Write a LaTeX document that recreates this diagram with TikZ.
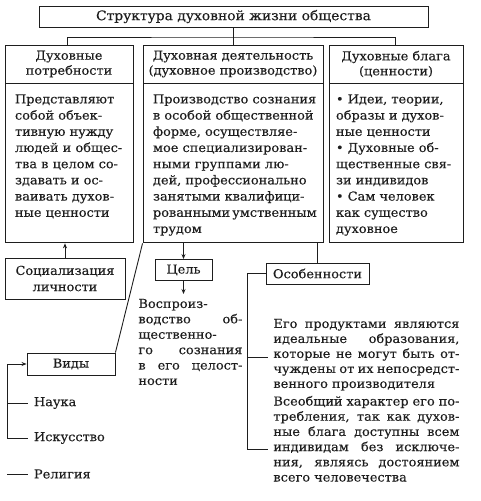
\documentclass[tikz,border=0pt]{standalone}
\usepackage{fontspec}
\setmainfont{DejaVu Serif}[FakeStretch=1.05, FakeBold=0.3]
\usetikzlibrary{arrows.meta}
\definecolor{ink}{RGB}{30,30,30}

% justified line of the current width
\newlength{\jwd}
\newcommand{\jl}[1]{\makebox[\jwd][s]{#1}}

\tikzset{
  box/.style={draw=ink, line width=0.9pt, inner sep=0pt, align=center},
  txt/.style={anchor=north west, align=left, inner sep=0pt},
  lbl/.style={anchor=west, inner sep=0pt, outer xsep=6pt},
  jw/.code={\setlength{\jwd}{#1}},
  tip/.style={-{Stealth[length=5pt,width=4pt]}},
}

\begin{document}
\begin{tikzpicture}[x=1pt, y=-1pt, color=ink, line width=0.9pt,
    font=\fontsize{12.3}{16.2}\selectfont]

    \useasboundingbox (0,0) rectangle (481,501);

    % Title
    \node[box, minimum width=389, minimum height=21, font=\fontsize{13.2}{15}\selectfont] (title) at (233.5,16.5)
        {Структура духовной жизни общества};

    % Column heads
    \node[box, minimum width=128, minimum height=38, font=\fontsize{12.3}{15}\selectfont] (needH) at (69,64)
        {Духовные\\потребности};
    \node[box, minimum width=180, minimum height=38, font=\fontsize{12.3}{15}\selectfont] (actH) at (233,64)
        {Духовная деятельность\\(духовное производство)};
    \node[box, minimum width=134, minimum height=38, font=\fontsize{12.3}{15}\selectfont] (valH) at (396,64)
        {Духовные блага\\(ценности)};

    % Column bodies
    \node[box, minimum width=128, minimum height=159, anchor=north] (needB) at (needH.south) {};
    \node[box, minimum width=180, minimum height=159, anchor=north] (actB) at (actH.south) {};
    \node[box, minimum width=134, minimum height=159, anchor=north] (valB) at (valH.south) {};

    % Title to columns
    \coordinate (hub) at (title.south |- 0,37);
    \draw (title.south) -- (title.south |- actH.north);
    \draw ([xshift=-2pt]needH.north) |- (hub) -| ([xshift=-1pt]valH.north);

    % Column texts
    \node[txt] (needT) at ([shift={(10,10.5)}]needB.north west)
        {Представляют\\собой объек-\\тивную нужду\\людей и общес-\\тва в целом со-\\здавать и ос-\\ваивать духов-\\ные ценности};
    \node[txt] (actT) at ([shift={(10,10.5)}]actB.north west)
        {Производство сознания\\в особой общественной\\форме, осуществляе-\\мое специализирован-\\ными группами лю-\\дей, профессионально\\занятыми квалифици-\\рованными\,умственным\\трудом};
    \node[txt] (valT) at ([shift={(7,10.5)}]valB.north west)
        {• Идеи, теории,\\образы и духов-\\ные ценности\\• Духовные об-\\щественные свя-\\зи индивидов\\• Сам человек\\как существо\\духовное};

    % Lower boxes
    \node[box, minimum width=120, minimum height=41] (soc) at (65,278.5)
        {Социализация\\личности};
    \node[box, minimum width=57, minimum height=21] (goal) at (183.5,270) {Цель};
    \node[box, minimum width=88, minimum height=22] (kinds) at (71,364) {Виды};
    \node[box, minimum width=103, minimum height=21] (feat) at (317.5,273.5) {Особенности};

    \draw[tip] (soc.north) -- (soc.north |- needB.south);
    \draw[tip] (goal.north |- actB.south) -- (goal.north);
    \coordinate (goalEnd) at (183.5,294);
    \draw[tip] (goal.south) -- (goalEnd);
    \draw (feat.north |- actB.south) -- (feat.north);
    \draw (actB.south west) -- (kinds.north east);

    % Aim
    \node[txt, jw=104pt, font=\fontsize{12.3}{15.4}\selectfont] (reprod) at (138,298.5)
        {Воспроиз-\\\jl{водство об-}\\щественно-\\\jl{го сознания}\\\jl{в его целост-}\\ности};

    % Kinds
    \node[lbl] (sci) at (28,403) {Наука};
    \node[lbl] (art) at (28,438) {Искусство};
    \node[lbl] (rel) at (28,474) {Религия};
    \coordinate (kBrk) at (kinds.west -| 7,0);
    \draw[tip] (kBrk) -- (kinds.west);
    \draw (kBrk) |- (art.west);
    \draw (kBrk |- sci.west) -- (sci.west);
    \draw (kBrk |- rel.west) -- (rel.west);

    % Features
    \node[txt, jw=186pt, font=\fontsize{12.3}{15}\selectfont] (prod) at (273,318.5)
        {\jl{Его продуктами являются}\\\jl{идеальные образования,}\\\jl{которые не могут быть от-}\\\jl{чуждены от их непосредст-}\\венного производителя};
    \node[txt, jw=186pt, font=\fontsize{12.3}{15.2}\selectfont] (use) at (273,395.5)
        {\jl{Всеобщий характер его по-}\\\jl{требления, так как духов-}\\\jl{ные блага доступны всем}\\\jl{индивидам без исключе-}\\\jl{ния, являясь достоянием}\\всего человечества};
    \coordinate (fBrk) at (feat.west -| 247,0);
    \coordinate (prodTick) at (268,357);
    \coordinate (useTick) at (268,449);
    \draw (feat.west) -- (fBrk) |- (useTick);
    \draw (fBrk |- prodTick) -- (prodTick);

\end{tikzpicture}
\end{document}
